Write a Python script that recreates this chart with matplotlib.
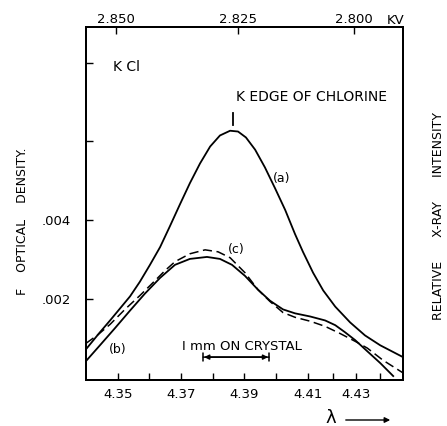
import numpy as np
import matplotlib
matplotlib.use('Agg')
import matplotlib.pyplot as plt

# courbe (a) : pic haut
xa = [4.3400, 4.3444, 4.3476, 4.3507, 4.3539, 4.3570, 4.3602, 4.3634, 4.3665, 4.3697,
      4.3728, 4.3760, 4.3792, 4.3823, 4.3855, 4.3880, 4.3905, 4.3934, 4.3965, 4.3997,
      4.4029, 4.4060, 4.4085, 4.4117, 4.4149, 4.4187, 4.4234, 4.4281, 4.4329, 4.4401]
ya = [0.00073, 0.00116, 0.00146, 0.00176, 0.00207, 0.00244, 0.00287, 0.00332, 0.00385, 0.00441,
      0.00494, 0.00544, 0.00587, 0.00615, 0.00627, 0.00625, 0.00610, 0.00579, 0.00534, 0.00481,
      0.00426, 0.00365, 0.00320, 0.00267, 0.00222, 0.00181, 0.00141, 0.00108, 0.00083, 0.00053]

# courbe (b) : trait plein bas
xb = [4.3400, 4.3444, 4.3491, 4.3539, 4.3586, 4.3634, 4.3681, 4.3728, 4.3782, 4.3823,
      4.3861, 4.3902, 4.3943, 4.3981, 4.4022, 4.4060, 4.4108, 4.4155, 4.4187, 4.4218,
      4.4250, 4.4288, 4.4329, 4.4370]
yb = [0.00043, 0.00083, 0.00126, 0.00171, 0.00214, 0.00254, 0.00287, 0.00302, 0.00307, 0.00302,
      0.00287, 0.00259, 0.00224, 0.00196, 0.00174, 0.00164, 0.00156, 0.00146, 0.00134, 0.00116,
      0.00096, 0.00068, 0.00038, 0.00005]

# courbe (c) : tirets
xc = [4.3400, 4.3435, 4.3476, 4.3523, 4.3570, 4.3618, 4.3649, 4.3681, 4.3728, 4.3776,
      4.3817, 4.3855, 4.3902, 4.3943, 4.3981, 4.4022, 4.4060, 4.4108, 4.4155, 4.4202,
      4.4250, 4.4288, 4.4338, 4.4401]
yc = [0.00088, 0.00108, 0.00136, 0.00174, 0.00209, 0.00247, 0.00272, 0.00295, 0.00315, 0.00325,
      0.00320, 0.00305, 0.00267, 0.00224, 0.00194, 0.00166, 0.00154, 0.00144, 0.00131, 0.00113,
      0.00093, 0.00076, 0.00045, 0.00013]

# axes (echelle lambda pas tout a fait reguliere sur l'original)
x_major = [4.35, 4.37, 4.39, 4.41, 4.4253]
x_major_labels = ['4.35', '4.37', '4.39', '4.41', '4.43']
x_minor = [4.36, 4.38, 4.40, 4.4179, 4.4327]
kv_ticks = [4.3495, 4.3880, 4.4247]
kv_labels = ['2.850', '2.825', '2.800']
y_ticks = [0.002, 0.004, 0.006, 0.008]
y_labels = ['.002', '.004', '', '']

plt.rcParams['font.family'] = ['DejaVu Sans']
fig = plt.figure(figsize=(4.47, 4.26), dpi=100)
ax = fig.add_axes([0.1924, 0.108, 0.7092, 0.8286])

ax.plot(xa, ya, color='black', lw=1.3)
ax.plot(xb, yb, color='black', lw=1.3)
ax.plot(xc, yc, color='black', lw=1.1, dashes=(6, 3))

ax.set_xlim(4.3400, 4.4401)
ax.set_ylim(-0.00005, 0.0089)

ax.set_xticks(x_major)
ax.set_xticklabels(x_major_labels)
ax.set_xticks(x_minor, minor=True)
ax.set_yticks(y_ticks)
ax.set_yticklabels(y_labels)
ax.tick_params(which='both', direction='in', length=5, width=1, labelsize=9.5,
               right=False)
ax.tick_params(axis='x', pad=6)
ax.tick_params(axis='y', pad=11)
for s in ax.spines.values():
    s.set_linewidth(1.4)

top = ax.twiny()
top.set_xlim(ax.get_xlim())
top.set_xticks(kv_ticks)
top.set_xticklabels(kv_labels)
top.tick_params(direction='in', length=5, width=1, labelsize=9.5, pad=0.5)
for s in top.spines.values():
    s.set_linewidth(1.4)
fig.text(396 / 447, 1 - 20 / 426, 'KV', ha='center', va='center', fontsize=9.5)

# annotations
ax.text(4.4019, 0.00506, '(a)', fontsize=9, ha='center', va='center')
ax.text(4.3874, 0.00325, '(c)', fontsize=9, ha='center', va='center')
ax.text(4.3500, 0.00073, '(b)', fontsize=9, ha='center', va='center')
ax.text(4.3485, 0.00788, 'K Cl', fontsize=10, ha='left', va='center')
ax.text(4.3874, 0.00713, 'K EDGE OF CHLORINE', fontsize=10, ha='left', va='center')
ax.plot([4.3864, 4.3864], [0.00642, 0.00673], color='black', lw=1.3)

ax.text(4.3893, 0.00081, 'I mm ON CRYSTAL', fontsize=9.5, ha='center', va='center')
ax.annotate('', xy=(4.3978, 0.00053), xytext=(4.3770, 0.00053),
            arrowprops=dict(arrowstyle='|-|', lw=1.1, mutation_scale=3, shrinkA=0, shrinkB=0))
ax.annotate('', xy=(4.3975, 0.00053), xytext=(4.3773, 0.00053),
            arrowprops=dict(arrowstyle='<|-|>', lw=1.1, mutation_scale=7, color='black',
                            shrinkA=0, shrinkB=0))

fig.text(23 / 447, 1 - 221 / 426, 'F    OPTICAL    DENSITY.', rotation=90,
         ha='center', va='center', fontsize=9)
fig.text(438 / 447, 1 - 216 / 426, 'RELATIVE      X-RAY      INTENSITY', rotation=90,
         ha='center', va='center', fontsize=9)

fig.text(331 / 447, 1 - 418 / 426, 'λ', ha='center', va='center', fontsize=13)
fig.patches.append(matplotlib.patches.FancyArrowPatch(
    (343 / 447, 1 - 420 / 426), (393 / 447, 1 - 420 / 426), transform=fig.transFigure,
    arrowstyle='-|>', mutation_scale=8, lw=1.0, color='black'))

fig.savefig('out.png', dpi=100)
